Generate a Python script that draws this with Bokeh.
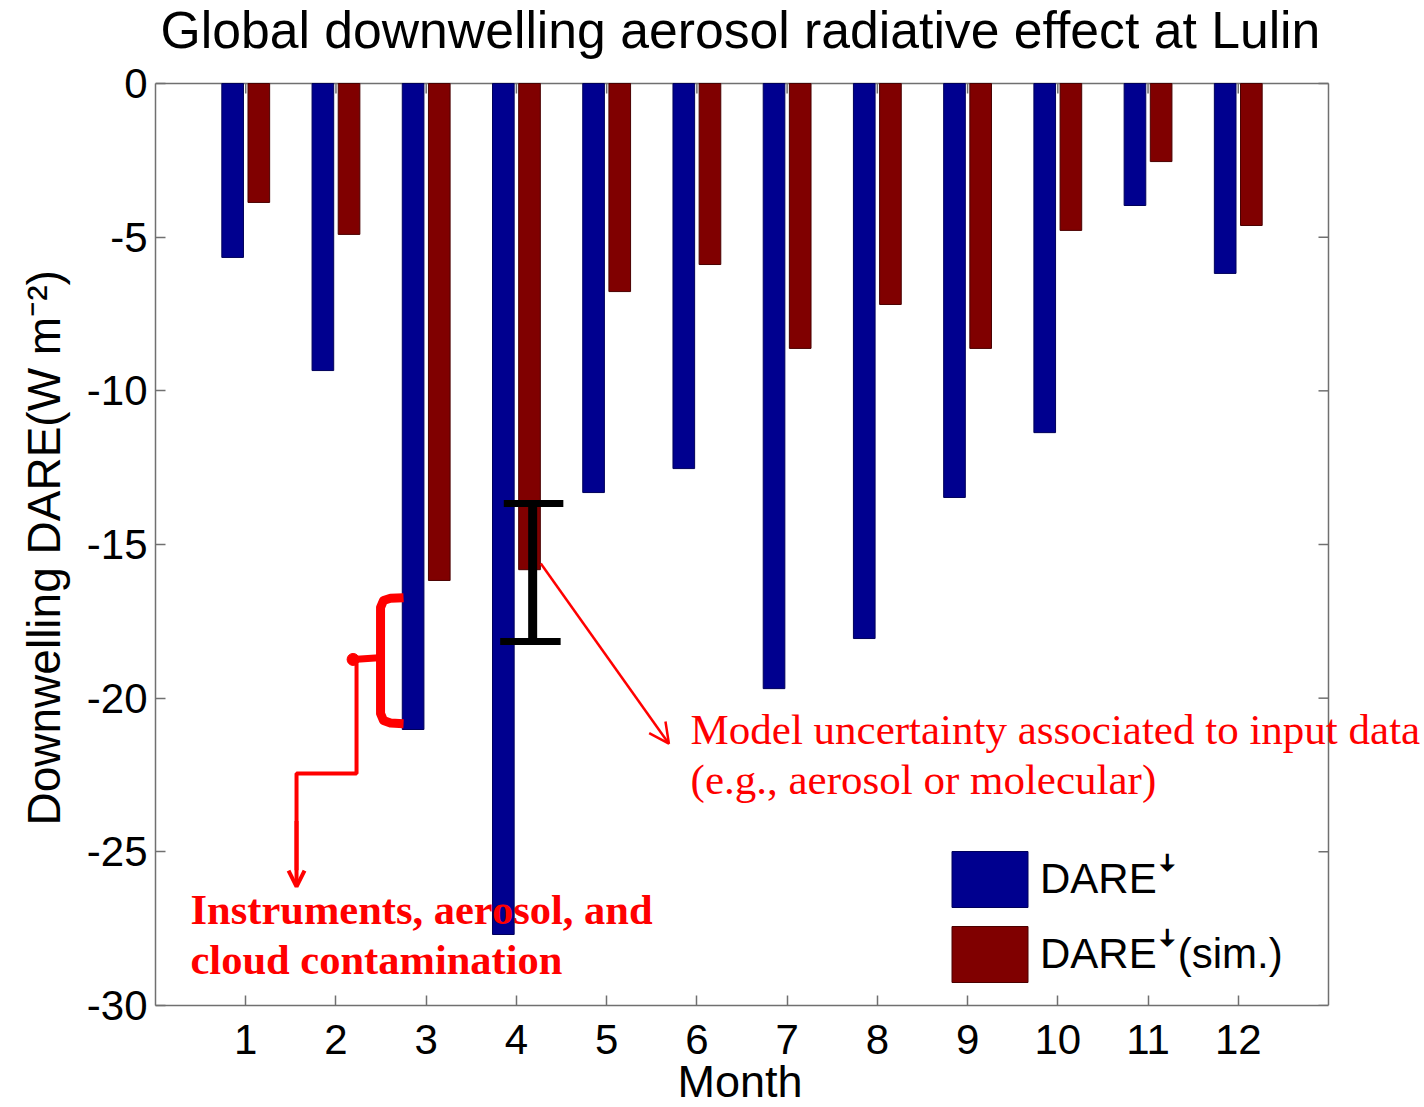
from bokeh.plotting import figure
from bokeh.models import (Range1d, Label, Arrow, OpenHead, FixedTicker,
                          Legend, LegendItem, Title)
from bokeh.embed import file_html
from bokeh.resources import INLINE

# ---------------- data ----------------
months = [1, 2, 3, 4, 5, 6, 7, 8, 9, 10, 11, 12]
dare_obs = [-5.66, -9.34, -21.02, -27.69, -13.31, -12.53, -19.69, -18.06, -13.47, -11.36, -3.97, -6.18]
dare_sim = [-3.87, -4.91, -16.17, -15.82, -6.77, -5.89, -8.62, -7.19, -8.62, -4.78, -2.54, -4.62]
y_ticks = [-30, -25, -20, -15, -10, -5, 0]
x_tick_labels = [str(m) for m in months]
series_labels = ["DARE\ua71c", "DARE\ua71c(sim.)"]

title_text = "Global downwelling aerosol radiative effect at Lulin"
x_label = "Month"
y_label = "Downwelling DARE(W m\u207b\u00b2)"
note_model = ["Model uncertainty associated to input data", "(e.g., aerosol or molecular)"]
note_instr = ["Instruments, aerosol, and", "cloud contamination"]

X_MIN, X_MAX = 0, 13          # axis box limits (months)
Y_MIN, Y_MAX = -30, 0
PX_X = 90.23                  # px per month
PX_Y = 922 / 30               # px per W m-2
EXTRA_RIGHT_PX = 96           # room right of the box (annotation text)
EXTRA_TOP_PX = 83             # room above the box (title)

BLUE = "#00008F"
RED = "#800000"
AX = "#707070"
SANS = "Liberation Sans"
SERIF = "Liberation Serif"

p = figure(width=1424, height=1107,
           x_range=Range1d(X_MIN, X_MAX + EXTRA_RIGHT_PX / PX_X),
           y_range=Range1d(Y_MIN, Y_MAX + EXTRA_TOP_PX / PX_Y),
           output_backend="svg", toolbar_location=None,
           min_border_left=155, min_border_right=0, min_border_top=0, min_border_bottom=102)
p.background_fill_color = "white"
p.border_fill_color = "white"
p.outline_line_color = None
p.grid.visible = False

# box edges (top and right) with inward ticks
top_tick = 10 / PX_Y
right_tick = 10 / PX_X
p.segment(x0=months, x1=months, y0=[Y_MAX] * len(months), y1=[Y_MAX - top_tick] * len(months),
          line_color=AX, line_width=1.5)
p.segment(x0=[X_MAX] * len(y_ticks), x1=[X_MAX - right_tick] * len(y_ticks),
          y0=y_ticks, y1=y_ticks, line_color=AX, line_width=1.5)
p.segment(x0=[X_MIN, X_MAX], x1=[X_MAX, X_MAX], y0=[Y_MAX, Y_MIN], y1=[Y_MAX, Y_MAX],
          line_color=AX, line_width=1.5)

# bars
off = 0.145
bw = 0.24
r_obs = p.vbar(x=[m - off for m in months], top=0, bottom=dare_obs, width=bw,
               fill_color=BLUE, line_color="#00005a", line_width=1)
r_sim = p.vbar(x=[m + off for m in months], top=0, bottom=dare_sim, width=bw,
               fill_color=RED, line_color="#4a0000", line_width=1)

# axes
for ax in (p.xaxis[0], p.yaxis[0]):
    ax.axis_line_color = AX
    ax.axis_line_width = 1.5
    ax.major_tick_line_color = AX
    ax.major_tick_line_width = 1.5
    ax.major_tick_in = 10
    ax.major_tick_out = 0
    ax.minor_tick_line_color = None
    ax.major_label_text_font = SANS
    ax.major_label_text_font_size = "42px"
    ax.major_label_text_color = "black"

p.xaxis.bounds = (X_MIN, X_MAX)
p.xaxis.ticker = FixedTicker(ticks=months)
p.xaxis.major_label_overrides = {m: s for m, s in zip(months, x_tick_labels)}
p.xaxis.major_label_standoff = 19

p.yaxis.bounds = (Y_MIN, Y_MAX)
p.yaxis.ticker = FixedTicker(ticks=y_ticks)
p.yaxis.major_label_overrides = {v: str(v) for v in y_ticks}
p.yaxis.major_label_standoff = 8

# axis titles (placed to sit centred on the box, not on the wider frame)
p.add_layout(Title(text=x_label, align="left", offset=522, vertical_align="middle",
                   standoff=-4, text_font=SANS, text_font_size="45px",
                   text_font_style="normal", text_color="black"), "below")
p.add_layout(Title(text=y_label, align="left", offset=180, vertical_align="bottom",
                   standoff=28, text_font=SANS, text_font_size="46px",
                   text_font_style="normal", text_color="black"), "left")

# chart title
p.add_layout(Label(x=5 / PX_X, y=1.725, text=title_text, text_font=SANS,
                   text_font_size="51.7px", text_color="black", text_baseline="alphabetic"))

# legend
legend = Legend(items=[LegendItem(label=series_labels[0], renderers=[r_obs]),
                       LegendItem(label=series_labels[1], renderers=[r_sim])],
                location=(787, 16), glyph_width=95, glyph_height=70, spacing=5,
                padding=0, margin=0, border_line_alpha=0, background_fill_alpha=0,
                label_text_font=SANS, label_text_font_size="42px", label_standoff=3,
                label_text_color="black", label_text_baseline="hanging")
p.add_layout(legend)

# ---------------- annotations ----------------
# model uncertainty bar (black)
p.line(x=[4.18, 4.18], y=[-13.67, -18.16], line_color="black", line_width=9)
p.line(x=[3.86, 4.52], y=[-13.67, -13.67], line_color="black", line_width=7)
p.line(x=[3.82, 4.49], y=[-18.16, -18.16], line_color="black", line_width=7)
p.add_layout(Arrow(end=OpenHead(size=20, line_color="red", line_width=2.5),
                   x_start=4.27, y_start=-15.62, x_end=5.69, y_end=-21.48,
                   line_color="red", line_width=2.5))

# bracket around month-3 difference (red)
p.line(x=[2.749, 2.604, 2.527, 2.494, 2.494, 2.527, 2.604, 2.749],
       y=[-16.73, -16.75, -16.82, -17.05, -20.50, -20.73, -20.81, -20.83],
       line_color="red", line_width=9, line_join="round")
p.line(x=[2.19, 2.516], y=[-18.74, -18.68], line_color="red", line_width=7)
p.scatter(x=[2.19], y=[-18.74], size=12, fill_color="red", line_color="red")
p.line(x=[2.228, 2.228, 1.563, 1.563], y=[-18.78, -22.45, -22.45, -25.6],
       line_color="red", line_width=4)
p.add_layout(Arrow(end=OpenHead(size=16, line_color="red", line_width=4),
                   x_start=1.563, y_start=-24.0, x_end=1.563, y_end=-26.13,
                   line_color="red", line_width=4))

for i, t in enumerate(note_model):
    p.add_layout(Label(x=5.93, y=-21.02 - 1.63 * i, text=t, text_font=SERIF,
                       text_font_size="43px", text_color="red",
                       text_baseline="alphabetic"))
for i, t in enumerate(note_instr):
    p.add_layout(Label(x=0.388, y=-26.87 - 1.63 * i, text=t, text_font=SERIF,
                       text_font_size="42.5px", text_font_style="bold", text_color="red",
                       text_baseline="alphabetic"))

open("out.html", "w").write(file_html(p, INLINE))
